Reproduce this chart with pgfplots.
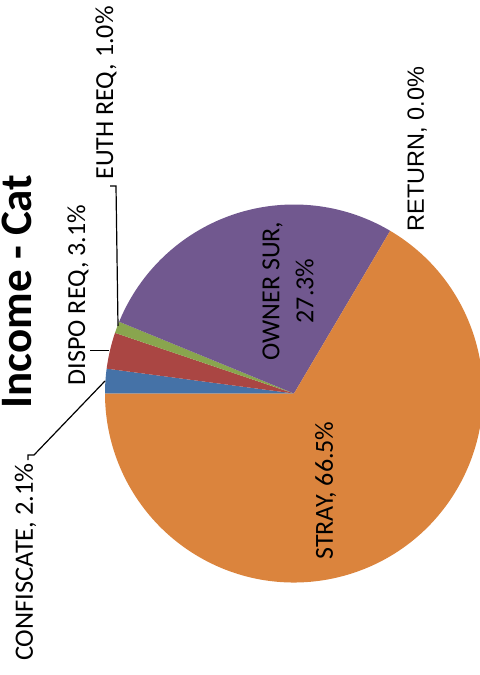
\documentclass[border=0pt]{standalone}
\usepackage{pgfplots}
\pgfplotsset{compat=1.18}
\usepackage{fontspec}
\setmainfont{Carlito}
\newfontfamily\arialfont{Liberation Sans}

\definecolor{cConf}{HTML}{4572A7}
\definecolor{cDispo}{HTML}{AA4643}
\definecolor{cEuth}{HTML}{89A54E}
\definecolor{cOwner}{HTML}{71588F}
\definecolor{cRet}{HTML}{4198AF}
\definecolor{cStray}{HTML}{DB843D}

\begin{document}
\begin{tikzpicture}
\path[use as bounding box] (0,0) rectangle (480bp,675bp);
\begin{axis}[at={(0,0)}, anchor=south west, scale only axis,
  width=480bp, height=675bp,
  xmin=0, xmax=480, ymin=0, ymax=675, y dir=reverse,
  hide axis, clip=true]
% pie centre and radius (pixels), chart rotated by 90 degrees
\def\cx{294}\def\cy{393.5}\def\r{189}
\xdef\angA{180}
\foreach \v/\c in {2.1/cConf, 3.1/cDispo, 1.0/cEuth, 27.3/cOwner, 0.0/cRet, 66.5/cStray}{
  \pgfmathsetmacro\angB{\angA-3.6*\v}
  \pgfmathsetmacro\sx{\cx+\r*cos(\angA)}
  \pgfmathsetmacro\sy{\cy-\r*sin(\angA)}
  \ifdim\v pt>0pt
    \edef\temp{\noexpand\fill[\c] (axis cs:\cx,\cy) -- (axis cs:\sx,\sy)
      arc[start angle=\angA, end angle=\angB, radius=\r bp] -- cycle;}
    \temp
  \fi
  \xdef\angA{\angB}
}
% leader lines
\draw[black, line width=1.2bp] (axis cs:105,381) -- (axis cs:34,455) -- (axis cs:28,455) -- (axis cs:28,460);
\draw[black, line width=1.2bp] (axis cs:109,350.5) -- (axis cs:90,350.5);
\draw[black, line width=1.2bp] (axis cs:118,326) -- (axis cs:116,186) -- (axis cs:110,186);
% labels
\node[rotate=90, anchor=base, inner sep=0pt, font=\bfseries\fontsize{45bp}{52bp}\selectfont] at (axis cs:32,291.5) {Income - Cat};
\node[rotate=90, anchor=base, inner sep=0pt, font=\fontsize{26.5bp}{32bp}\selectfont] at (axis cs:33,562) {CONFISCATE, 2.1\%};
\node[rotate=90, anchor=base, inner sep=0pt, font=\fontsize{26bp}{32bp}\selectfont] at (axis cs:85,295) {DISPO REQ, 3.1\%};
\node[rotate=90, anchor=base, inner sep=0pt, font=\fontsize{26bp}{32bp}\selectfont] at (axis cs:113,93) {EUTH REQ, 1.0\%};
\node[rotate=90, anchor=base, inner sep=0pt, font=\arialfont\fontsize{23.5bp}{28bp}\selectfont] at (axis cs:424,149) {RETURN, 0.0\%};
\node[rotate=90, anchor=center, align=center, inner sep=0pt, font=\fontsize{26bp}{34bp}\selectfont] at (axis cs:288,291) {OWNER SUR,\\27.3\%};
\node[rotate=90, anchor=base, inner sep=0pt, font=\fontsize{26bp}{32bp}\selectfont] at (axis cs:333,490.5) {STRAY, 66.5\%};
\end{axis}
\end{tikzpicture}
\end{document}
